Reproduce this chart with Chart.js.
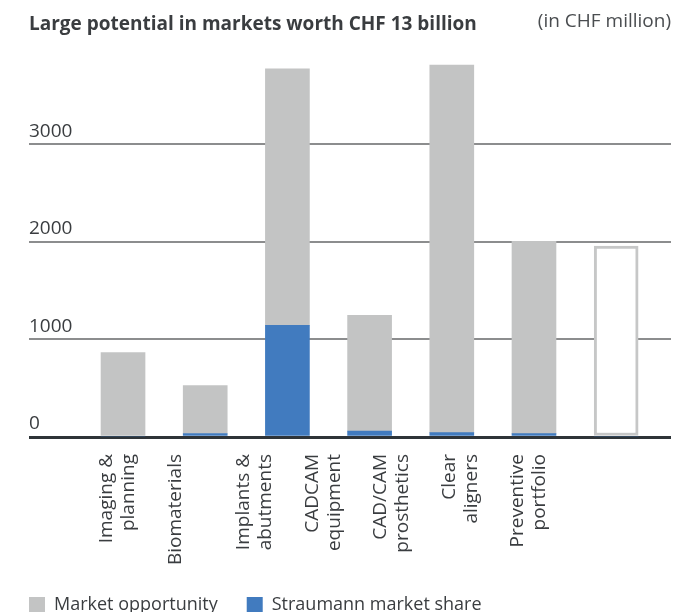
<!DOCTYPE html>
<html>
<head>
<meta charset="utf-8">
<script src="https://cdn.jsdelivr.net/npm/chart.js@4/dist/chart.umd.min.js"></script>
<style>
  html, body { margin: 0; padding: 0; background: #ffffff; }
  #wrap { width: 688px; height: 612px; position: relative; }
</style>
</head>
<body>
<div id="wrap"><canvas id="c" width="688" height="612"></canvas></div>
<script>
// ---- data (CHF million) ----
const categories = [
  ["Imaging &", "planning"],
  ["Biomaterials"],
  ["Implants &", "abutments"],
  ["CADCAM", "equipment"],
  ["CAD/CAM", "prosthetics"],
  ["Clear", "aligners"],
  ["Preventive", "portfolio"]
];
const straumannShare    = [0, 36, 1145, 60, 45, 35, 0];
const marketOpportunity = [865, 490, 2625, 1185, 3765, 1970, 1955];
const yTicks = [0, 1000, 2000, 3000];
const titleText = "Large potential in markets worth CHF 13 billion";
const unitText = "(in CHF million)";
const legendNames = ["Straumann market share", "Market opportunity"];

const GREY = "#c3c4c4";
const BLUE = "#417bbf";
const TEXT = "#3a3d40";
const FONT = "'Open Sans'";

const positions = categories.map((_, i) => i + 1);

const headerPlugin = {
  id: "header",
  afterLayout(chart) {
    // title starts at the plot's left edge
    if (chart.titleBlock) chart.titleBlock.left = chart.chartArea.left;
  },
  afterDraw(chart) {
    const ctx = chart.ctx;
    ctx.save();
    ctx.font = "19px " + FONT;
    ctx.fillStyle = "#4a4d50";
    ctx.textAlign = "right";
    ctx.textBaseline = "middle";
    ctx.fillText(unitText, chart.chartArea.right, 22);
    ctx.restore();
  }
};

new Chart(document.getElementById("c"), {
  type: "bar",
  data: {
    datasets: [
      {
        label: legendNames[0],
        data: positions.map((x, i) => ({ x: x, y: straumannShare[i] })),
        backgroundColor: BLUE,
        borderWidth: 0,
        barThickness: 44,
        xAxisID: "x",
        yAxisID: "y"
      },
      {
        label: legendNames[1],
        data: positions.map((x, i) => ({ x: x, y: marketOpportunity[i] })),
        backgroundColor: (c) => (c.type === "data" && c.dataIndex === 6) ? "#ffffff" : GREY,
        borderColor: "#c6c7c7",
        borderWidth: (c) => (c.type === "data" && c.dataIndex === 6) ? 3 : 0,
        borderSkipped: false,
        barThickness: 44,
        xAxisID: "x",
        yAxisID: "y"
      }
    ]
  },
  options: {
    responsive: false,
    animation: false,
    layout: { padding: { left: 0, right: 17, top: 0, bottom: -12 } },
    plugins: {
      title: {
        display: true,
        text: titleText,
        align: "start",
        color: TEXT,
        font: { family: FONT, size: 19, weight: "bold", lineHeight: 1.2 },
        padding: { top: 13, bottom: 18 }
      },
      legend: {
        position: "bottom",
        align: "start",
        reverse: true,
        labels: {
          boxWidth: 16,
          boxHeight: 16,
          color: TEXT,
          padding: 29,
          font: { family: FONT, size: 18 }
        }
      },
      tooltip: { enabled: false }
    },
    scales: {
      x: {
        type: "linear",
        stacked: true,
        display: false,
        offset: false,
        min: -0.144,
        max: 7.667
      },
      xl: {
        type: "linear",
        position: "bottom",
        offset: false,
        min: -0.136,
        max: 9.237,
        afterBuildTicks: (s) => { s.ticks = positions.map(v => ({ value: v })); },
        afterFit: (s) => { s.height = 130; },
        grid: { display: false, drawTicks: false, offset: false },
        border: { display: false },
        ticks: {
          autoSkip: false,
          maxRotation: 90,
          minRotation: 90,
          padding: 17,
          color: TEXT,
          font: { family: FONT, size: 19, lineHeight: 1.15 },
          callback: (v) => categories[v - 1]
        }
      },
      y: {
        type: "linear",
        stacked: true,
        min: 0,
        max: 3925,
        afterBuildTicks: (s) => { s.ticks = yTicks.map(v => ({ value: v })); },
        afterFit: (s) => { s.width = 29; },
        border: { display: false },
        grid: {
          drawTicks: false,
          color: (c) => c.tick && c.tick.value === 0 ? "#2e3438" : "#8c8d8e",
          lineWidth: (c) => c.tick && c.tick.value === 0 ? 3 : 2
        },
        ticks: {
          mirror: true,
          padding: 0,
          labelOffset: -13,
          color: TEXT,
          font: { family: FONT, size: 19 },
          callback: (v) => String(v)
        }
      }
    }
  },
  plugins: [headerPlugin]
});
</script>
</body>
</html>
